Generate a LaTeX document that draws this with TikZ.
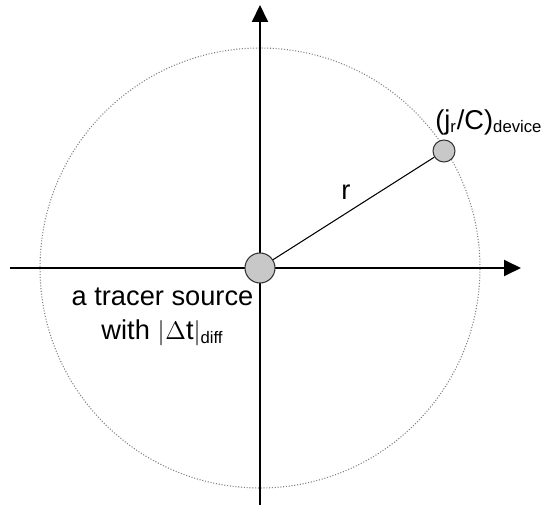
\documentclass[tikz,border=0pt]{standalone}
\usepackage{fontspec}
\setmainfont{Liberation Sans}
\usepackage{tikz}
\usetikzlibrary{arrows.meta,positioning}
\definecolor{srcGray}{HTML}{C8C8C8}
\definecolor{rimGray}{HTML}{808080}
\newcommand{\lowtext}[1]{\textsubscript{\fontsize{9.5}{10}\selectfont #1}}
\tikzset{
  axis/.style={-{Triangle[length=3.4mm, width=3.2mm]}, line width=1.1pt, draw=black},
  range circle/.style={draw=rimGray, densely dotted, line width=0.6pt},
  source dot/.style={circle, draw=black!80, fill=srcGray, line width=0.6pt,
    minimum size=6mm, inner sep=0pt},
  device dot/.style={circle, draw=black!80, fill=srcGray, line width=0.6pt,
    minimum size=4.4mm, inner sep=0pt},
  big label/.style={font=\fontsize{15.5}{19}\selectfont, align=center}
}
\begin{document}
\begin{tikzpicture}
  \useasboundingbox (-5.2,-4.8) rectangle (5.68,5.36);
  \draw[range circle] (0,0) circle (4.4);
  \coordinate (xl) at (-5.0,0);
  \coordinate (xr) at (5.22,0);
  \coordinate (yb) at (0,-4.74);
  \coordinate (yt) at (0,5.26);
  \draw[axis] (xl) -- (xr);
  \draw[axis] (yb) -- (yt);
  \node[source dot] (src) at (0,0) {};
  \node[device dot] (dev) at (3.68,2.34) {};
  \draw[line width=0.6pt] (src) -- (dev);
  \node[big label] (rlab) at (1.72,1.52) {r};
  \node[big label, anchor=west, inner sep=0pt] (devlab) at (3.5,2.92)
    {(j\lowtext{r}/C)\lowtext{device}};
  \node[big label] (srclab) at (-1.95,-0.98)
    {a tracer source\\ with $|$\kern0.5pt$\Delta$t$|$\lowtext{diff}};
\end{tikzpicture}
\end{document}
